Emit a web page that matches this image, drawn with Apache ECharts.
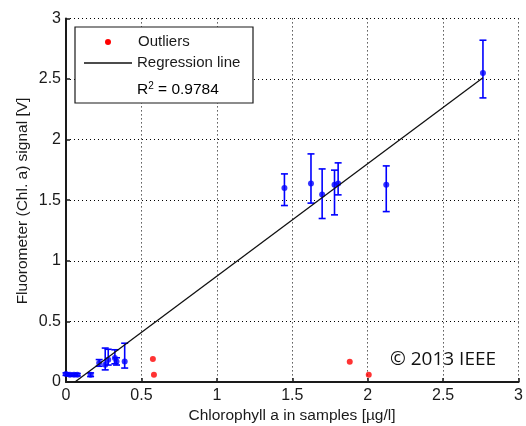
<!DOCTYPE html>
<html>
<head>
<meta charset="utf-8">
<script src="https://cdn.jsdelivr.net/npm/echarts@6/dist/echarts.min.js"></script>
<style>
  html, body { margin: 0; padding: 0; background: #fff; }
  #chart { width: 526px; height: 426px; }
</style>
</head>
<body>
<div id="chart"></div>
<script>
// Sample measurements: chlorophyll a concentration vs fluorometer signal
const sampleX = [0.00, 0.026, 0.053, 0.075, 0.163, 0.22, 0.26, 0.28, 0.324, 0.335, 0.389, 1.448, 1.624, 1.698, 1.78, 1.804, 2.123, 2.764];
const sampleY = [0.065, 0.06, 0.06, 0.06, 0.06, 0.157, 0.143, 0.184, 0.198, 0.17, 0.17, 1.60, 1.637, 1.547, 1.627, 1.637, 1.627, 2.55];
// Error bar bounds (lower / upper) for each sample
const errLow  = [0.055, 0.05, 0.05, 0.05, 0.045, 0.13, 0.10, 0.14, 0.15, 0.14, 0.115, 1.456, 1.476, 1.349, 1.379, 1.544, 1.406, 2.344];
const errHigh = [0.075, 0.07, 0.07, 0.07, 0.075, 0.185, 0.28, 0.27, 0.266, 0.20, 0.32, 1.717, 1.882, 1.758, 1.748, 1.808, 1.783, 2.82];

// Samples excluded from the fit
const outlierX = [0.576, 0.583, 1.881, 2.007];
const outlierY = [0.19, 0.06, 0.167, 0.06];

// Regression line end points
const regLineX = [0.059, 2.764];
const regLineY = [0.0, 2.511];

const rSquared = '0.9784';
const xTickLabels = ['0', '0.5', '1', '1.5', '2', '2.5', '3'];
const yTickLabels = ['0', '0.5', '1', '1.5', '2', '2.5', '3'];

const FONT = '"Liberation Sans", Arial, sans-serif';
const BLUE = '#0000ff';
const INK = '#1a1a1a';

const samples = sampleX.map((x, i) => [x, sampleY[i]]);
const bars = sampleX.map((x, i) => [x, errLow[i], errHigh[i]]);
const outliers = outlierX.map((x, i) => [x, outlierY[i]]);
const regLine = regLineX.map((x, i) => [x, regLineY[i]]);

function gridLine() {
  return { show: true, lineStyle: { color: '#000', width: 1, type: [1, 3] } };
}

const chart = echarts.init(document.getElementById('chart'), null, { renderer: 'canvas' });

chart.setOption({
  animation: false,
  backgroundColor: '#fff',
  grid: { left: 66, right: 5.5, top: 18.4, bottom: 44, containLabel: false },
  xAxis: {
    type: 'value', min: 0, max: 3, interval: 0.5,
    axisLine: { show: true, onZero: false, lineStyle: { color: INK, width: 2 } },
    axisTick: { show: true, inside: true, length: 4, lineStyle: { color: INK, width: 1.5 } },
    axisLabel: {
      margin: 6, color: INK, fontFamily: FONT, fontSize: 16,
      formatter: (v) => xTickLabels[Math.round(v * 2)]
    },
    splitLine: gridLine()
  },
  yAxis: {
    type: 'value', min: 0, max: 3, interval: 0.5,
    axisLine: { show: true, onZero: false, lineStyle: { color: INK, width: 2 } },
    axisTick: { show: true, inside: true, length: 4, lineStyle: { color: INK, width: 1.5 } },
    axisLabel: {
      margin: 5, color: INK, fontFamily: FONT, fontSize: 16,
      formatter: (v) => yTickLabels[Math.round(v * 2)]
    },
    splitLine: gridLine()
  },
  series: [
    {
      name: 'Error bars',
      type: 'custom',
      data: bars,
      z: 3,
      renderItem: function (params, api) {
        const x = api.value(0);
        const lo = api.coord([x, api.value(1)]);
        const hi = api.coord([x, api.value(2)]);
        const hw = 3.5;
        const style = { stroke: BLUE, lineWidth: 1.6, fill: null };
        return {
          type: 'group',
          children: [
            { type: 'line', shape: { x1: lo[0], y1: lo[1], x2: hi[0], y2: hi[1] }, style: style },
            { type: 'line', shape: { x1: lo[0] - hw, y1: lo[1], x2: lo[0] + hw, y2: lo[1] }, style: style },
            { type: 'line', shape: { x1: hi[0] - hw, y1: hi[1], x2: hi[0] + hw, y2: hi[1] }, style: style }
          ]
        };
      }
    },
    {
      name: 'Samples',
      type: 'scatter',
      data: samples,
      symbol: 'circle',
      symbolSize: 6,
      itemStyle: { color: BLUE },
      z: 4
    },
    {
      name: 'Outliers',
      type: 'scatter',
      data: outliers,
      symbol: 'circle',
      symbolSize: 6,
      itemStyle: { color: '#ff0000' },
      z: 4
    },
    {
      name: 'Regression line',
      type: 'line',
      data: regLine,
      symbol: 'none',
      lineStyle: { color: '#111', width: 1.3 },
      z: 5
    }
  ],
  graphic: [
    // Legend box
    { type: 'rect', z: 100, shape: { x: 75, y: 27, width: 178, height: 76 },
      style: { fill: '#fff', stroke: INK, lineWidth: 1.2 } },
    { type: 'circle', z: 101, shape: { cx: 108, cy: 42, r: 3 }, style: { fill: '#ff0000' } },
    { type: 'text', z: 101, x: 138, y: 42,
      style: { text: 'Outliers', font: '15px ' + FONT, fill: INK, verticalAlign: 'middle' } },
    { type: 'line', z: 101, shape: { x1: 84, y1: 63, x2: 132, y2: 63 },
      style: { stroke: '#111', lineWidth: 1.3 } },
    { type: 'text', z: 101, x: 137, y: 63,
      style: { text: 'Regression line', font: '15px ' + FONT, fill: INK, verticalAlign: 'middle' } },
    { type: 'text', z: 101, x: 137, y: 90,
      style: {
        text: '{r|R}{s|2}{r| = ' + rSquared + '}',
        verticalAlign: 'middle',
        rich: {
          r: { fontSize: 15.5, fontFamily: FONT, color: INK },
          s: { fontSize: 10, fontFamily: FONT, color: INK, verticalAlign: 'top', padding: [0, 0, 8, 0] }
        }
      } },
    // Axis titles
    {
      type: 'text', x: 292, y: 416, z: 100,
      style: { text: 'Chlorophyll a in samples [µg/l]', font: '15.5px ' + FONT, fill: INK,
               align: 'center', verticalAlign: 'middle' }
    },
    {
      type: 'text', x: 23, y: 201, rotation: Math.PI / 2, z: 100,
      style: { text: 'Fluorometer (Chl. a) signal [V]', font: '15.5px ' + FONT, fill: INK,
               align: 'center', verticalAlign: 'middle' }
    },
    {
      type: 'text', x: 443, y: 360, z: 100,
      style: { text: '© 2013 IEEE', font: '19px "Open Sans", sans-serif', fill: '#111',
               align: 'center', verticalAlign: 'middle' }
    }
  ]
});
</script>
</body>
</html>
